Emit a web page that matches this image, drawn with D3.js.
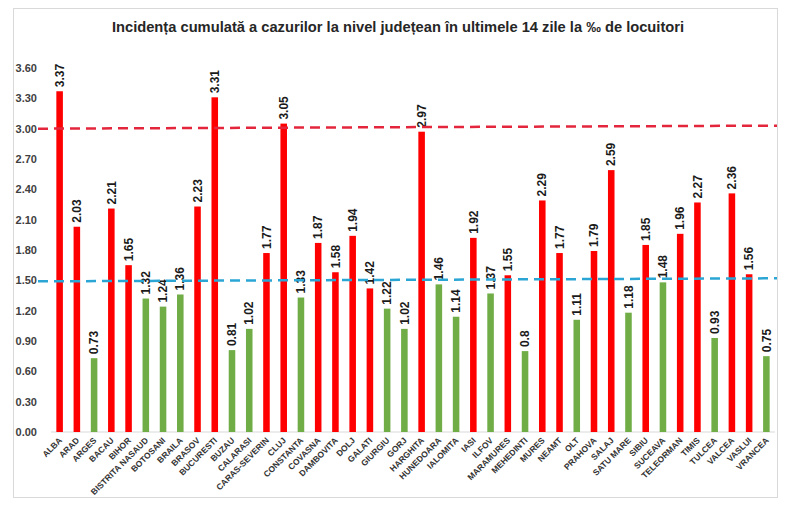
<!DOCTYPE html>
<html>
<head>
<meta charset="utf-8">
<script src="https://cdn.jsdelivr.net/npm/d3@7"></script>
<style>
  body { margin: 0; background: #fff; }
  svg { display: block; }
</style>
</head>
<body>
<div id="chart"></div>
<script>
// judete, in ordinea din grafic
const judete = ['ALBA','ARAD','ARGES','BACAU','BIHOR','BISTRITA NASAUD','BOTOSANI','BRAILA','BRASOV','BUCURESTI',
  'BUZAU','CALARASI','CARAS-SEVERIN','CLUJ','CONSTANTA','COVASNA','DAMBOVITA','DOLJ','GALATI','GIURGIU',
  'GORJ','HARGHITA','HUNEDOARA','IALOMITA','IASI','ILFOV','MARAMURES','MEHEDINTI','MURES','NEAMT',
  'OLT','PRAHOVA','SALAJ','SATU MARE','SIBIU','SUCEAVA','TELEORMAN','TIMIS','TULCEA','VALCEA',
  'VASLUI','VRANCEA'];

const incidenta = [3.37,2.03,0.73,2.21,1.65,1.32,1.24,1.36,2.23,3.31,
  0.81,1.02,1.77,3.05,1.33,1.87,1.58,1.94,1.42,1.22,
  1.02,2.97,1.46,1.14,1.92,1.37,1.55,0.8,2.29,1.77,
  1.11,1.79,2.59,1.18,1.85,1.48,1.96,2.27,0.93,2.36,
  1.56,0.75];

// 1 = marcat rosu in grafic, 0 = verde
const alerta = [1,1,0,1,1,0,0,0,1,1,
  0,0,1,1,0,1,1,1,1,0,
  0,1,0,0,1,0,1,0,1,1,
  0,1,1,0,1,0,1,1,0,1,
  1,0];

const yTicks = [0,0.3,0.6,0.9,1.2,1.5,1.8,2.1,2.4,2.7,3.0,3.3,3.6];

// pragurile desenate cu linie intrerupta (capat stanga, capat dreapta)
const pragRosu = [3.00, 3.03];
const pragAlbastru = [1.49, 1.52];

const titlu = 'Incidența cumulată a cazurilor la nivel județean în ultimele 14 zile la ‰ de locuitori';

const W = 800, H = 515;
const margin = { top: 68, right: 25, bottom: 83, left: 51 };

const svg = d3.select('#chart').append('svg')
  .attr('width', W).attr('height', H);

// chenar
svg.append('rect')
  .attr('x', 13.5).attr('y', 8.5)
  .attr('width', 764).attr('height', 489)
  .attr('fill', '#fff').attr('stroke', '#d9d9d9');

svg.append('text')
  .attr('x', 398).attr('y', 32)
  .attr('text-anchor', 'middle')
  .attr('font-family', 'Liberation Sans, Arial, sans-serif')
  .attr('font-weight', 'bold')
  .attr('font-size', 14.7)
  .attr('fill', '#262626')
  .text(titlu);

const x = d3.scaleBand()
  .domain(judete)
  .range([margin.left, W - margin.right])
  .paddingInner(0.62)
  .paddingOuter(0.31);

const y = d3.scaleLinear()
  .domain([0, 3.6])
  .range([432, 68]);

// axa Y
const yAxis = svg.append('g')
  .attr('transform', 'translate(40,0)')
  .call(d3.axisLeft(y).tickValues(yTicks).tickFormat(d3.format('.2f')).tickSize(0).tickPadding(3));
yAxis.select('.domain').remove();
yAxis.selectAll('text')
  .attr('font-family', 'Liberation Sans, Arial, sans-serif')
  .attr('font-weight', 'bold')
  .attr('font-size', 11)
  .attr('fill', '#404040');

// linia de baza
svg.append('line')
  .attr('x1', margin.left).attr('x2', W - margin.right)
  .attr('y1', y(0)).attr('y2', y(0))
  .attr('stroke', '#d9d9d9').attr('stroke-width', 1);

const data = judete.map((j, i) => ({ judet: j, val: incidenta[i], rosu: alerta[i] === 1 }));

svg.append('g').selectAll('rect')
  .data(data)
  .join('rect')
  .attr('x', d => x(d.judet))
  .attr('width', x.bandwidth())
  .attr('y', d => y(d.val))
  .attr('height', d => y(0) - y(d.val))
  .attr('fill', d => d.rosu ? '#ff0000' : '#70ad47');

// etichete valori
svg.append('g').selectAll('text')
  .data(data)
  .join('text')
  .attr('transform', d => `translate(${x(d.judet) + x.bandwidth() / 2},${y(d.val) - 4}) rotate(-90)`)
  .attr('dy', '0.35em')
  .attr('font-family', 'Liberation Sans, Arial, sans-serif')
  .attr('font-weight', 'bold')
  .attr('font-size', 12)
  .attr('fill', '#1a1a1a')
  .text(d => String(d.val));

// etichete judete
svg.append('g').selectAll('text')
  .data(data)
  .join('text')
  .attr('transform', d => `translate(${x(d.judet) + x.bandwidth() / 2 + 3},${y(0) + 9}) rotate(-45)`)
  .attr('text-anchor', 'end')
  .attr('font-family', 'Liberation Sans, Arial, sans-serif')
  .attr('font-weight', 'bold')
  .attr('font-size', 8.5)
  .attr('fill', '#333')
  .text(d => d.judet);

// linii prag
const linie = (prag, culoare) => svg.append('line')
  .attr('x1', 38).attr('x2', 777)
  .attr('y1', y(prag[0])).attr('y2', y(prag[1]))
  .attr('stroke', culoare)
  .attr('stroke-width', 2.5)
  .attr('stroke-dasharray', '10,6');

linie(pragRosu, '#e3263b');
linie(pragAlbastru, '#2ba6d4');
</script>
</body>
</html>
